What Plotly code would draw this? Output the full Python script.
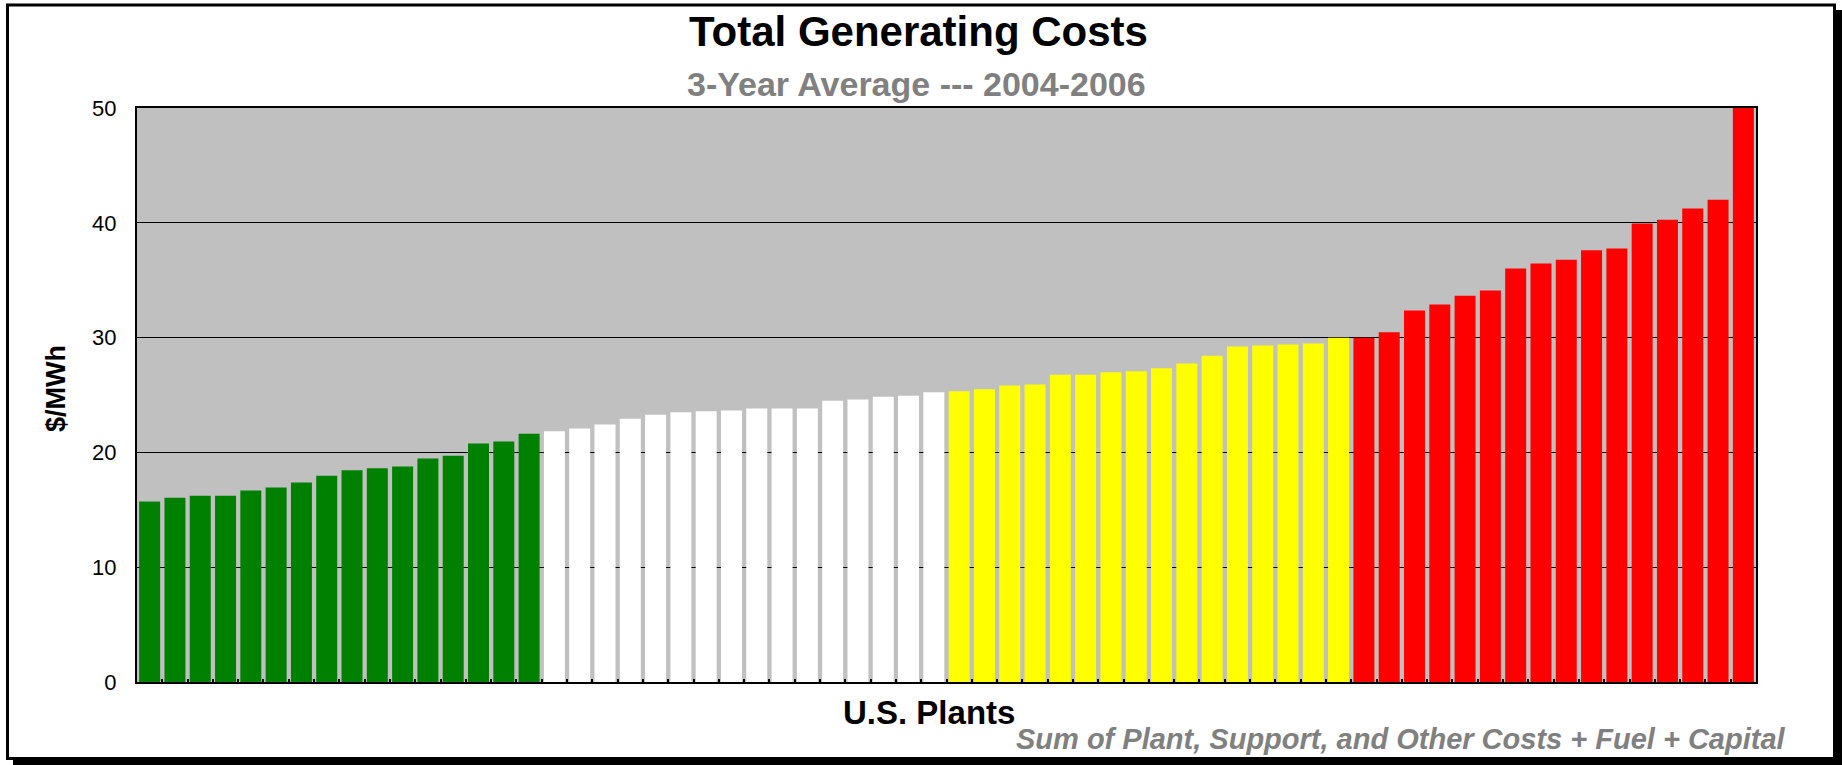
import plotly.graph_objects as go

# ---- data ----
green_costs = [15.72, 16.06, 16.23, 16.23, 16.69, 16.95, 17.37, 17.97,
               18.44, 18.61, 18.78, 19.46, 19.71, 20.77, 20.94, 21.62]
white_costs = [21.84, 22.09, 22.43, 22.94, 23.28, 23.49, 23.58, 23.66,
               23.83, 23.83, 23.83, 24.51, 24.60, 24.85, 24.94, 25.23]
yellow_costs = [25.32, 25.49, 25.83, 25.91, 26.76, 26.76, 26.98, 27.06,
                27.32, 27.74, 28.42, 29.23, 29.31, 29.40, 29.48, 29.99]
red_costs = [29.99, 30.46, 32.37, 32.88, 33.64, 34.11, 36.02, 36.45,
             36.79, 37.60, 37.77, 39.93, 40.27, 41.25, 42.01, 50.00]
y_ticks = [0, 10, 20, 30, 40, 50]

groups = [("#008000", green_costs), ("#FFFFFF", white_costs),
          ("#FFFF00", yellow_costs), ("#FF0000", red_costs)]

W, H = 1842, 765
ML, MR, MT, MB = 137, 86, 108, 83
PW, PH = W - ML - MR, H - MT - MB


def px(x):
    return (x - ML) / PW


def py(y):
    return (H - MB - y) / PH


FONT = "Liberation Sans, Arial, sans-serif"

fig = go.Figure()
idx = 0
for color, vals in groups:
    cats = [f"Plant {idx + i + 1}" for i in range(len(vals))]
    idx += len(vals)
    fig.add_trace(go.Bar(x=cats, y=vals, marker=dict(color=color, line=dict(width=0)),
                         showlegend=False))

fig.update_layout(
    width=W, height=H,
    margin=dict(l=ML, r=MR, t=MT, b=MB, pad=0),
    paper_bgcolor="white", plot_bgcolor="#C0C0C0",
    bargap=0.17,
    font=dict(family=FONT, color="black"),
    xaxis=dict(type="category", showticklabels=False, showgrid=False,
               ticks="inside", ticklen=3, tickwidth=2, tickcolor="black",
               tickson="boundaries",
               showline=True, linecolor="black", linewidth=2, mirror=True,
               zeroline=False),
    yaxis=dict(range=[0, 50], tickvals=y_ticks, ticks="", showgrid=True,
               gridcolor="black", gridwidth=1, zeroline=False,
               showline=True, linecolor="black", linewidth=2, mirror=True,
               tickfont=dict(size=22, family=FONT, color="black"),
               ticklabelstandoff=14),
)

ann = [
    dict(text="<b>Total Generating Costs</b>", x=px(918), y=py(32),
         font=dict(size=42, color="black")),
    dict(text="<b>3-Year Average --- 2004-2006</b>", x=px(916), y=py(84),
         font=dict(size=34, color="#808080")),
    dict(text="<b>U.S. Plants</b>", x=px(929), y=py(712),
         font=dict(size=33, color="black")),
    dict(text="<b>$/MWh</b>", x=px(56), y=py(389), textangle=-90,
         font=dict(size=27, color="black")),
]
for a in ann:
    a.update(xref="paper", yref="paper", showarrow=False,
             xanchor="center", yanchor="middle")
    a["font"]["family"] = FONT
    fig.add_annotation(**a)

fig.add_annotation(text="<b><i>Sum of Plant, Support, and Other Costs + Fuel + Capital</i></b>",
                   x=px(1788), y=py(739), xref="paper", yref="paper",
                   showarrow=False, xanchor="right", yanchor="middle",
                   font=dict(size=29, color="#808080", family=FONT))

# frame with drop shadow
fig.add_shape(type="rect", xref="paper", yref="paper",
              x0=px(1836), x1=px(1842), y0=py(10), y1=py(765),
              fillcolor="black", line=dict(width=0), layer="above")
fig.add_shape(type="rect", xref="paper", yref="paper",
              x0=px(13), x1=px(1842), y0=py(759.5), y1=py(765),
              fillcolor="black", line=dict(width=0), layer="above")
fig.add_shape(type="rect", xref="paper", yref="paper",
              x0=px(7.5), x1=px(1834.5), y0=py(5), y1=py(758.5),
              line=dict(color="black", width=3), fillcolor="rgba(0,0,0,0)",
              layer="above")

fig.write_html("out.html",
               config={"displayModeBar": False},
               post_script="document.body.style.margin='0';"
                           "document.body.style.overflow='hidden';")
